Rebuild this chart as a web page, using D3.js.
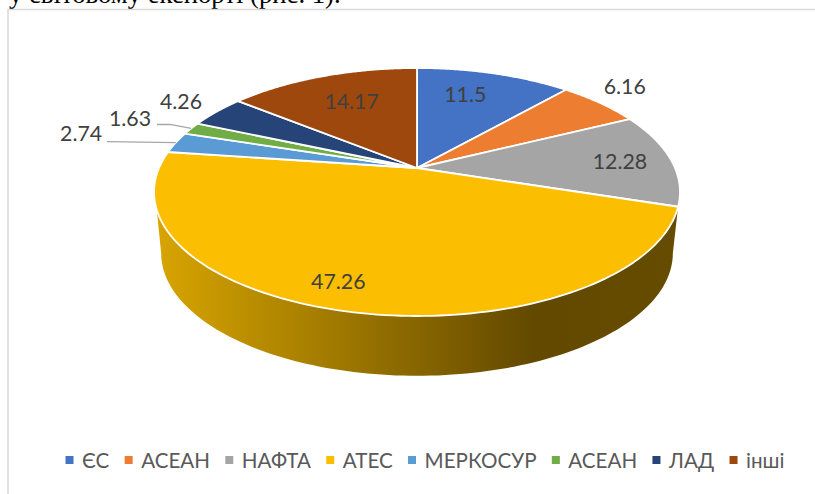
<!DOCTYPE html>
<html lang="en">
<head>
<meta charset="UTF-8">
<title>pie</title>
<script src="https://cdn.jsdelivr.net/npm/d3@7"></script>
<style>
    html,body{margin:0;padding:0;background:#fff;overflow:hidden;}
    svg{display:block;}
</style>
</head>
<body>
<script type="text/javascript">

    // data
    let categories = ["ЄС","АСЕАН","НАФТА","АТЕС","МЕРКОСУР","АСЕАН","ЛАД","інші"];
    let values = [11.5,6.16,12.28,47.26,2.74,1.63,4.26,14.17];
    let labels = ["11.5","6.16","12.28","47.26","2.74","1.63","4.26","14.17"];
    let colors = ["#4472c4","#ed7d31","#a5a5a5","#fbbe00","#5b9bd5","#70ad47","#264478","#9e480e"];

    let width=815, height=494;
    let cx=417, cy=168;

    let svg=d3.select("body").append("svg")
        .attr("width",width)
        .attr("height",height);

    // caption of the surrounding document, cut by the crop
    svg.append("text")
        .attr("x",9).attr("y",3)
        .attr("font-family","Liberation Serif")
        .attr("font-size",26.7)
        .attr("fill","#000")
        .text("у світовому експорті (рис. 1).");

    // chart frame
    svg.append("path")
        .attr("d",`M8,${height}V9.5H${width}`)
        .attr("fill","none")
        .attr("stroke","#d9d9d9")
        .attr("stroke-width",1.5);

    // perspective: the disc is tilted so the apex is not the ellipse centre
    let tilt=0.1935;
    let upper={rx:258,ry:119.35,dy:0};
    let lower={rx:251,ry:118,dy:61.5};
    let project=(a,r,disc)=>{
        let u=r*Math.sin(a), v=-r*Math.cos(a), w=1-tilt*v;
        return [cx+disc.rx*u/w, cy+disc.dy+disc.ry*v/w];
    };
    let line=d3.line();
    let deg=d3.scaleLinear().domain([0,360]).range([0,2*Math.PI]);

    let pie=d3.pie().sort(null).value(d=>d);
    let slices=pie(values);

    let rim=(a0,a1,disc)=>d3.range(0,1.0001,1/120).map(t=>project(a0+(a1-a0)*t,1,disc));

    // side wall of the big slice, the only one facing the viewer
    let grad=svg.append("defs").append("linearGradient")
        .attr("id","wall")
        .attr("gradientUnits","userSpaceOnUse")
        .attr("x1",155).attr("x2",680).attr("y1",0).attr("y2",0);
    grad.append("stop").attr("offset",0).attr("stop-color","#d8a500");
    grad.append("stop").attr("offset",0.72).attr("stop-color","#634900");
    grad.append("stop").attr("offset",1).attr("stop-color","#664c00");

    let big=slices[3];
    // wall runs from the right end of the slice to where the silhouette leaves the rim on the left
    let wallTop=rim(big.startAngle,deg(250.8),upper);
    let wallBottom=rim(deg(258.8),deg(101.2),lower);
    svg.append("path")
        .attr("d",line(wallTop.concat(wallBottom))+"Z")
        .attr("fill","url(#wall)");

    // top face
    svg.append("g").selectAll("path")
        .data(slices)
        .join("path")
        .attr("d",d=>line([[cx,cy]].concat(rim(d.startAngle,d.endAngle,upper)))+"Z")
        .attr("fill",(d,i)=>colors[i])
        .attr("stroke","#fff")
        .attr("stroke-width",1.8)
        .attr("stroke-linejoin","round");

    // label placement: radius factor and a small nudge, per label
    let labelRadius=[0.75,1.21,0.79,0.82,1.39,1.295,1.2,0.645];
    let labelNudge=[[-12,0],[-9,-5],[2,0],[-23,0],[-6,0],[0,0],[0,-1],[-1,-5]];
    let mid=d=>(d.startAngle+d.endAngle)/2;

    // leader lines for the two thin slices
    let leaderStyle=(g)=>g.attr("fill","none").attr("stroke","#a6a6a6").attr("stroke-width",1.3);
    let p4=project(mid(slices[4]),1,upper);
    svg.append("path").call(leaderStyle)
        .attr("d",line([[107,p4[1]-1],[p4[0],p4[1]]]));
    let p5=project(mid(slices[5]),1,upper);
    svg.append("path").call(leaderStyle)
        .attr("d",line([[157,p5[1]-4],[170,p5[1]-4],[p5[0],p5[1]]]));

    svg.append("g").selectAll("text")
        .data(slices)
        .join("text")
        .attr("transform",(d,i)=>{
            let p=project(mid(d),labelRadius[i],upper);
            return `translate(${p[0]+labelNudge[i][0]},${p[1]+labelNudge[i][1]})`;
        })
        .attr("text-anchor","middle")
        .attr("dominant-baseline","central")
        .attr("font-family","Lato, Carlito, 'Open Sans'")
        .attr("font-size",21.3)
        .attr("fill","#404040")
        .text((d,i)=>labels[i]);

    // legend, laid out from the measured text widths
    let legend=svg.append("g").attr("font-family","Lato, Carlito, 'Open Sans'").attr("font-size",20.6).attr("fill","#595959");
    let items=legend.selectAll("g").data(categories).join("g");
    items.append("rect").attr("width",8).attr("height",8).attr("y",-4).attr("fill",(d,i)=>colors[i]);
    items.append("text").attr("x",16.5).attr("dominant-baseline","central").text(d=>d);
    let xPos=65.5;
    items.each(function(){
        let w=d3.select(this).select("text").node().getComputedTextLength();
        d3.select(this).attr("transform",`translate(${xPos},460)`);
        xPos+=16.5+w+15.3;
    });

</script>
</body>
</html>
